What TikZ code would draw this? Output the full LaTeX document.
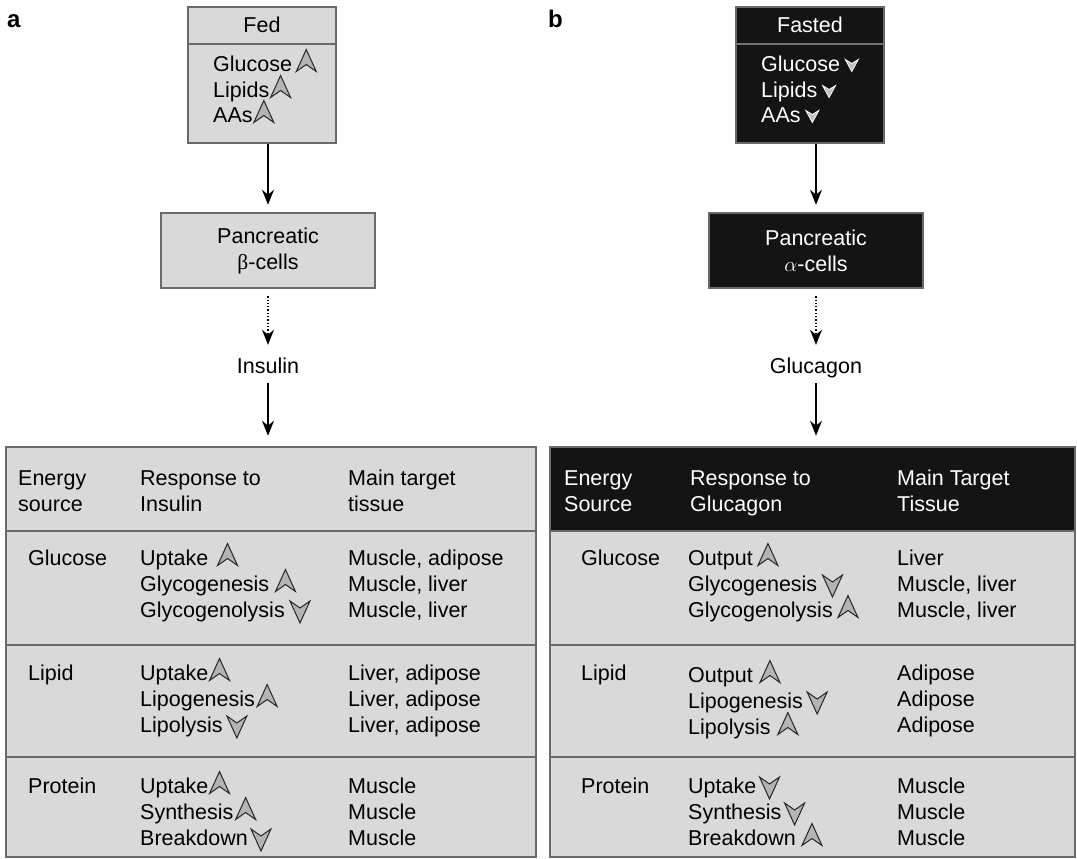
\documentclass[tikz,border=0pt]{standalone}
\usepackage{fontspec}
\setmainfont{Liberation Sans}
\newfontfamily\greekfont{Liberation Serif}
\usetikzlibrary{arrows.meta}
\definecolor{boxgray}{HTML}{D9D9D9}
\definecolor{linegray}{HTML}{6A6A6A}
\definecolor{boxblack}{HTML}{141414}
\definecolor{tipgray}{HTML}{B4B4B4}
\tikzset{
  chev/.pic={\filldraw[fill=tipgray,draw=black!85,line width=1pt,yscale=#1] (0,-11)--(10,11)--(0,4)--(-10,11)--cycle;},
  chevs/.pic={\filldraw[fill=black!25,draw=white,line width=0.8pt] (0,6)--(6.5,-6)--(0,-2)--(-6.5,-6)--cycle;}
}
\begin{document}
\begin{tikzpicture}[x=1pt,y=-1pt,font=\fontsize{21.5}{26}\selectfont,
  txt/.style={anchor=base west,inner sep=0pt},
  hd/.style={anchor=west,align=left,inner sep=0pt},
  lbl/.style={inner sep=0pt,text height=16pt,text depth=5pt},
  lightbox/.style={draw=linegray,line width=2.5pt,fill=boxgray,inner sep=0pt},
  darkbox/.style={draw=linegray,line width=2.5pt,fill=boxblack,text=white,inner sep=0pt},
  flow/.style={line width=1.3pt,-{Stealth[length=15pt,width=12pt]}},
  panel/.style={txt,font=\fontsize{24}{28}\selectfont\bfseries}]
\useasboundingbox (0,0) rectangle (1077,859);
\node[panel] (pa) at (7,28) {a};
\node[panel] (pb) at (548,28) {b};
% fed side
\node[lightbox,minimum width=148pt,minimum height=136pt] (fed) at (262,75) {};
\draw[linegray,line width=2pt] (188,44) -- (336,44);
\node (fedt) at (262,25) {Fed};
\foreach \t/\y/\g [count=\i] in {Glucose/71/4,Lipids/97/1,AAs/122/1}
  {\node[txt] (fed\i) at (213,\y) {\t};
   \pic at ([xshift={\g+10},yshift=10.5]fed\i.base east) {chev=1};}
\node[lightbox,minimum width=214pt,minimum height=75pt,align=center] (beta) at (268,250.5) {Pancreatic\\{\greekfont β}-cells};
\node[lbl] (ins) at (268,367.5) {Insulin};
\draw[flow,shorten >=7pt] (fed.south -| beta) -- (beta);
\draw[flow,dash pattern=on 1.3pt off 2pt,shorten <=7pt,shorten >=12pt] (beta) -- (ins);
\node[lightbox,minimum width=530pt,minimum height=410pt] (taba) at (271,652) {};
\draw[flow,shorten <=5pt,shorten >=10pt] (ins) -- (ins |- taba.north);
\foreach \y in {531,645,757} \draw[linegray,line width=2pt] (6,\y) -- (536,\y);
\node[hd] (ha1) at (18,491) {Energy\\source};
\node[hd] (ha2) at (140,491) {Response to\\Insulin};
\node[hd] (ha3) at (348,491) {Main target\\tissue};
\foreach \t/\y [count=\i] in {Glucose/565,Lipid/680,Protein/793}
  \node[txt] (ea\i) at (28,\y) {\t};
\foreach \t/\y/\d/\g [count=\i] in {Uptake/565/1/9,Glycogenesis/591/1/6,Glycogenolysis/617/-1/5,
    Uptake/680/1/1,Lipogenesis/706/1/2,Lipolysis/732/-1/4,
    Uptake/793/1/1,Synthesis/819/1/2,Breakdown/845/-1/3}
  {\node[txt] (ra\i) at (140,\y) {\t};
   \pic at ([xshift={\g+10},yshift={7.75+2.75*\d}]ra\i.base east) {chev=\d};}
\foreach \t/\y [count=\i] in {{Muscle, adipose}/565,{Muscle, liver}/591,{Muscle, liver}/617,
    {Liver, adipose}/680,{Liver, adipose}/706,{Liver, adipose}/732,
    Muscle/793,Muscle/819,Muscle/845}
  \node[txt] (ta\i) at (348,\y) {\t};
% fasted side
\node[darkbox,minimum width=148pt,minimum height=136pt] (fast) at (810,75) {};
\draw[black!55,line width=2pt] (736,44) -- (884,44);
\node[text=white] (fastt) at (810,25) {Fasted};
\foreach \t/\y [count=\i] in {Glucose/71,Lipids/97,AAs/122}
  {\node[txt,text=white] (fast\i) at (761,\y) {\t};
   \pic at ([xshift=11.5,yshift=5.5]fast\i.base east) {chevs};}
\node[darkbox,minimum width=214pt,minimum height=75pt,align=center] (alpha) at (816,250.5) {Pancreatic\\$\alpha$-cells};
\node[lbl] (glc) at (816,367.5) {Glucagon};
\draw[flow,shorten >=7pt] (fast.south -| alpha) -- (alpha);
\draw[flow,dash pattern=on 1.3pt off 2pt,shorten <=7pt,shorten >=12pt] (alpha) -- (glc);
\node[lightbox,minimum width=525pt,minimum height=410pt] (tabb) at (812.5,652) {};
\fill[boxblack] (551.25,448.25) rectangle (1073.75,531);
\draw[flow,shorten <=5pt,shorten >=10pt] (glc) -- (glc |- tabb.north);
\foreach \y in {531,645,757} \draw[linegray,line width=2pt] (550,\y) -- (1075,\y);
\node[hd,text=white] (hb1) at (564,491) {Energy\\Source};
\node[hd,text=white] (hb2) at (690,493.3) {Response to\\Glucagon};
\node[hd,text=white] (hb3) at (897,491) {Main Target\\Tissue};
\foreach \t/\y [count=\i] in {Glucose/565,Lipid/680,Protein/793}
  \node[txt] (eb\i) at (581,\y) {\t};
\foreach \t/\y/\d/\g [count=\i] in {Output/565/1/5,Glycogenesis/591/-1/5,Glycogenolysis/617/1/5,
    Output/682/1/7,Lipogenesis/708/-1/4,Lipolysis/734/1/7,
    Uptake/793/-1/3,Synthesis/819/-1/3,Breakdown/845/1/6}
  {\node[txt] (rb\i) at (688,\y) {\t};
   \pic at ([xshift={\g+10},yshift={7.75+2.75*\d}]rb\i.base east) {chev=\d};}
\foreach \t/\y [count=\i] in {Liver/565,{Muscle, liver}/591,{Muscle, liver}/617,
    Adipose/680,Adipose/706,Adipose/732,Muscle/793,Muscle/819,Muscle/845}
  \node[txt] (tb\i) at (897,\y) {\t};
\end{tikzpicture}
\end{document}
